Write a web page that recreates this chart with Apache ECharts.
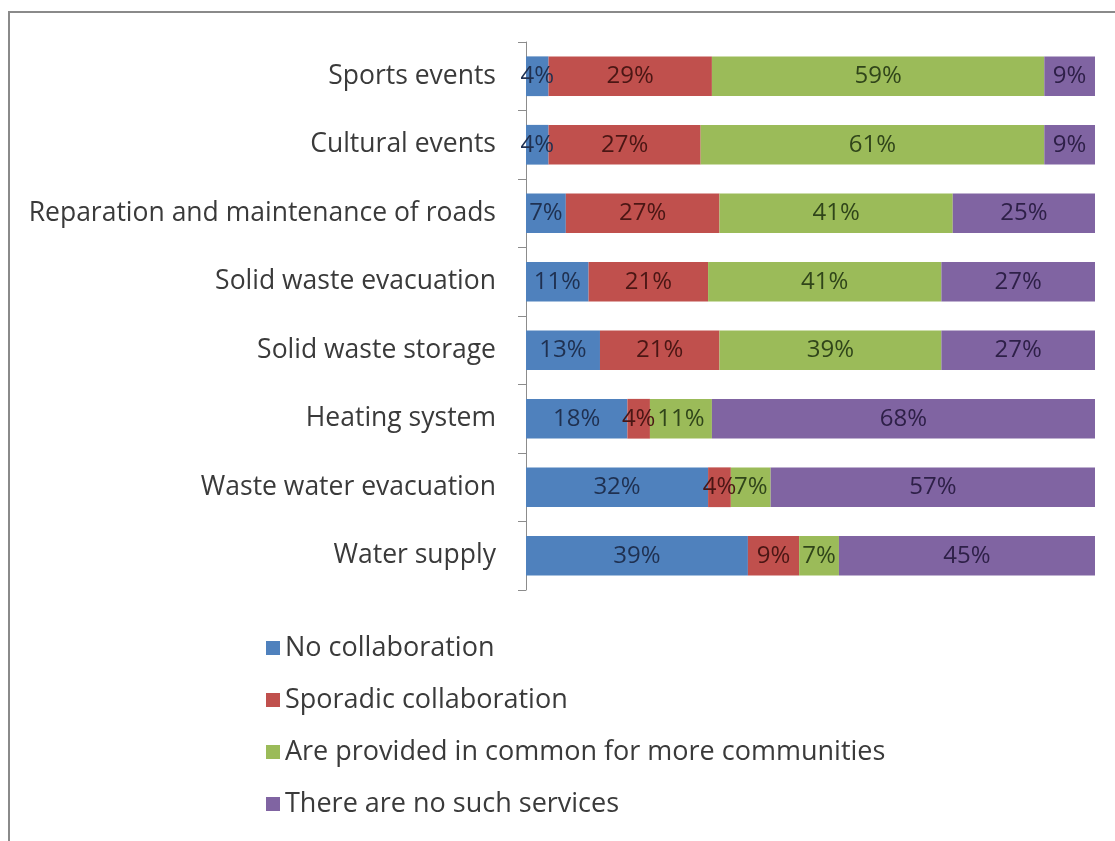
<!DOCTYPE html>
<html>
<head>
<meta charset="utf-8">
<script src="https://cdn.jsdelivr.net/npm/echarts@6/dist/echarts.min.js"></script>
<style>
  html, body { margin: 0; padding: 0; background: #fff; }
  #chart { width: 1115px; height: 841px; }
</style>
</head>
<body>
<div id="chart"></div>
<script>
// Services, listed top to bottom
const categories = [
  'Sports events',
  'Cultural events',
  'Reparation and maintenance of roads',
  'Solid waste evacuation',
  'Solid waste storage',
  'Heating system',
  'Waste water evacuation',
  'Water supply'
];

const seriesNames = [
  'No collaboration',
  'Sporadic collaboration',
  'Are provided in common for more communities',
  'There are no such services'
];

// Shares in percent, per service (same order as categories)
const noCollaboration   = [4, 4, 7, 11, 13, 18, 32, 39];
const sporadic          = [29, 27, 27, 21, 21, 4, 4, 9];
const inCommon          = [59, 61, 41, 41, 39, 11, 7, 7];
const noServices        = [9, 9, 25, 27, 27, 68, 57, 45];

const colors      = ['#4F81BD', '#C0504D', '#9BBB59', '#8064A2'];
const labelColors = ['#1F3050', '#4A1614', '#30451A', '#2E2048'];

const FONT = '"Open Sans", Lato, sans-serif';

const raw = [noCollaboration, sporadic, inCommon, noServices];

// 100% stacked: each row is scaled to its own total
const totals = categories.map((_, i) => raw.reduce((s, arr) => s + arr[i], 0));

const series = raw.map((arr, k) => ({
  name: seriesNames[k],
  type: 'bar',
  stack: 'total',
  barWidth: '58%',
  itemStyle: { color: colors[k] },
  label: {
    show: true,
    position: 'inside',
    color: labelColors[k],
    fontSize: 24,
    fontFamily: FONT,
    formatter: p => arr[p.dataIndex] + '%'
  },
  data: arr.map((v, i) => v / totals[i] * 100)
}));

const chart = echarts.init(document.getElementById('chart'), null, { renderer: 'canvas' });
chart.setOption({
  backgroundColor: '#ffffff',
  animation: false,
  graphic: [{
    type: 'rect',
    shape: { x: 9, y: 12, width: 2000, height: 2000 },
    style: { fill: 'none', stroke: '#8a8a8a', lineWidth: 2 },
    silent: true
  }],
  grid: { left: 526, right: 20, top: 42, bottom: 251, containLabel: false },
  xAxis: {
    type: 'value',
    min: 0,
    max: 100,
    show: false
  },
  yAxis: {
    type: 'category',
    inverse: true,
    data: categories,
    axisLine: { show: true, lineStyle: { color: '#8c8c8c', width: 1 } },
    axisTick: { show: true, length: 8, lineStyle: { color: '#8c8c8c' } },
    axisLabel: {
      margin: 30,
      color: '#3a3a3a',
      fontSize: 26.5,
      fontFamily: FONT
    },
    splitLine: { show: false }
  },
  legend: {
    orient: 'vertical',
    left: 261,
    top: 628,
    itemWidth: 14,
    itemHeight: 14,
    itemGap: 22,
    icon: 'rect',
    data: seriesNames,
    textStyle: {
      color: '#3a3a3a',
      fontSize: 27,
      lineHeight: 30,
      fontFamily: FONT
    }
  },
  series: series
});
</script>
</body>
</html>
